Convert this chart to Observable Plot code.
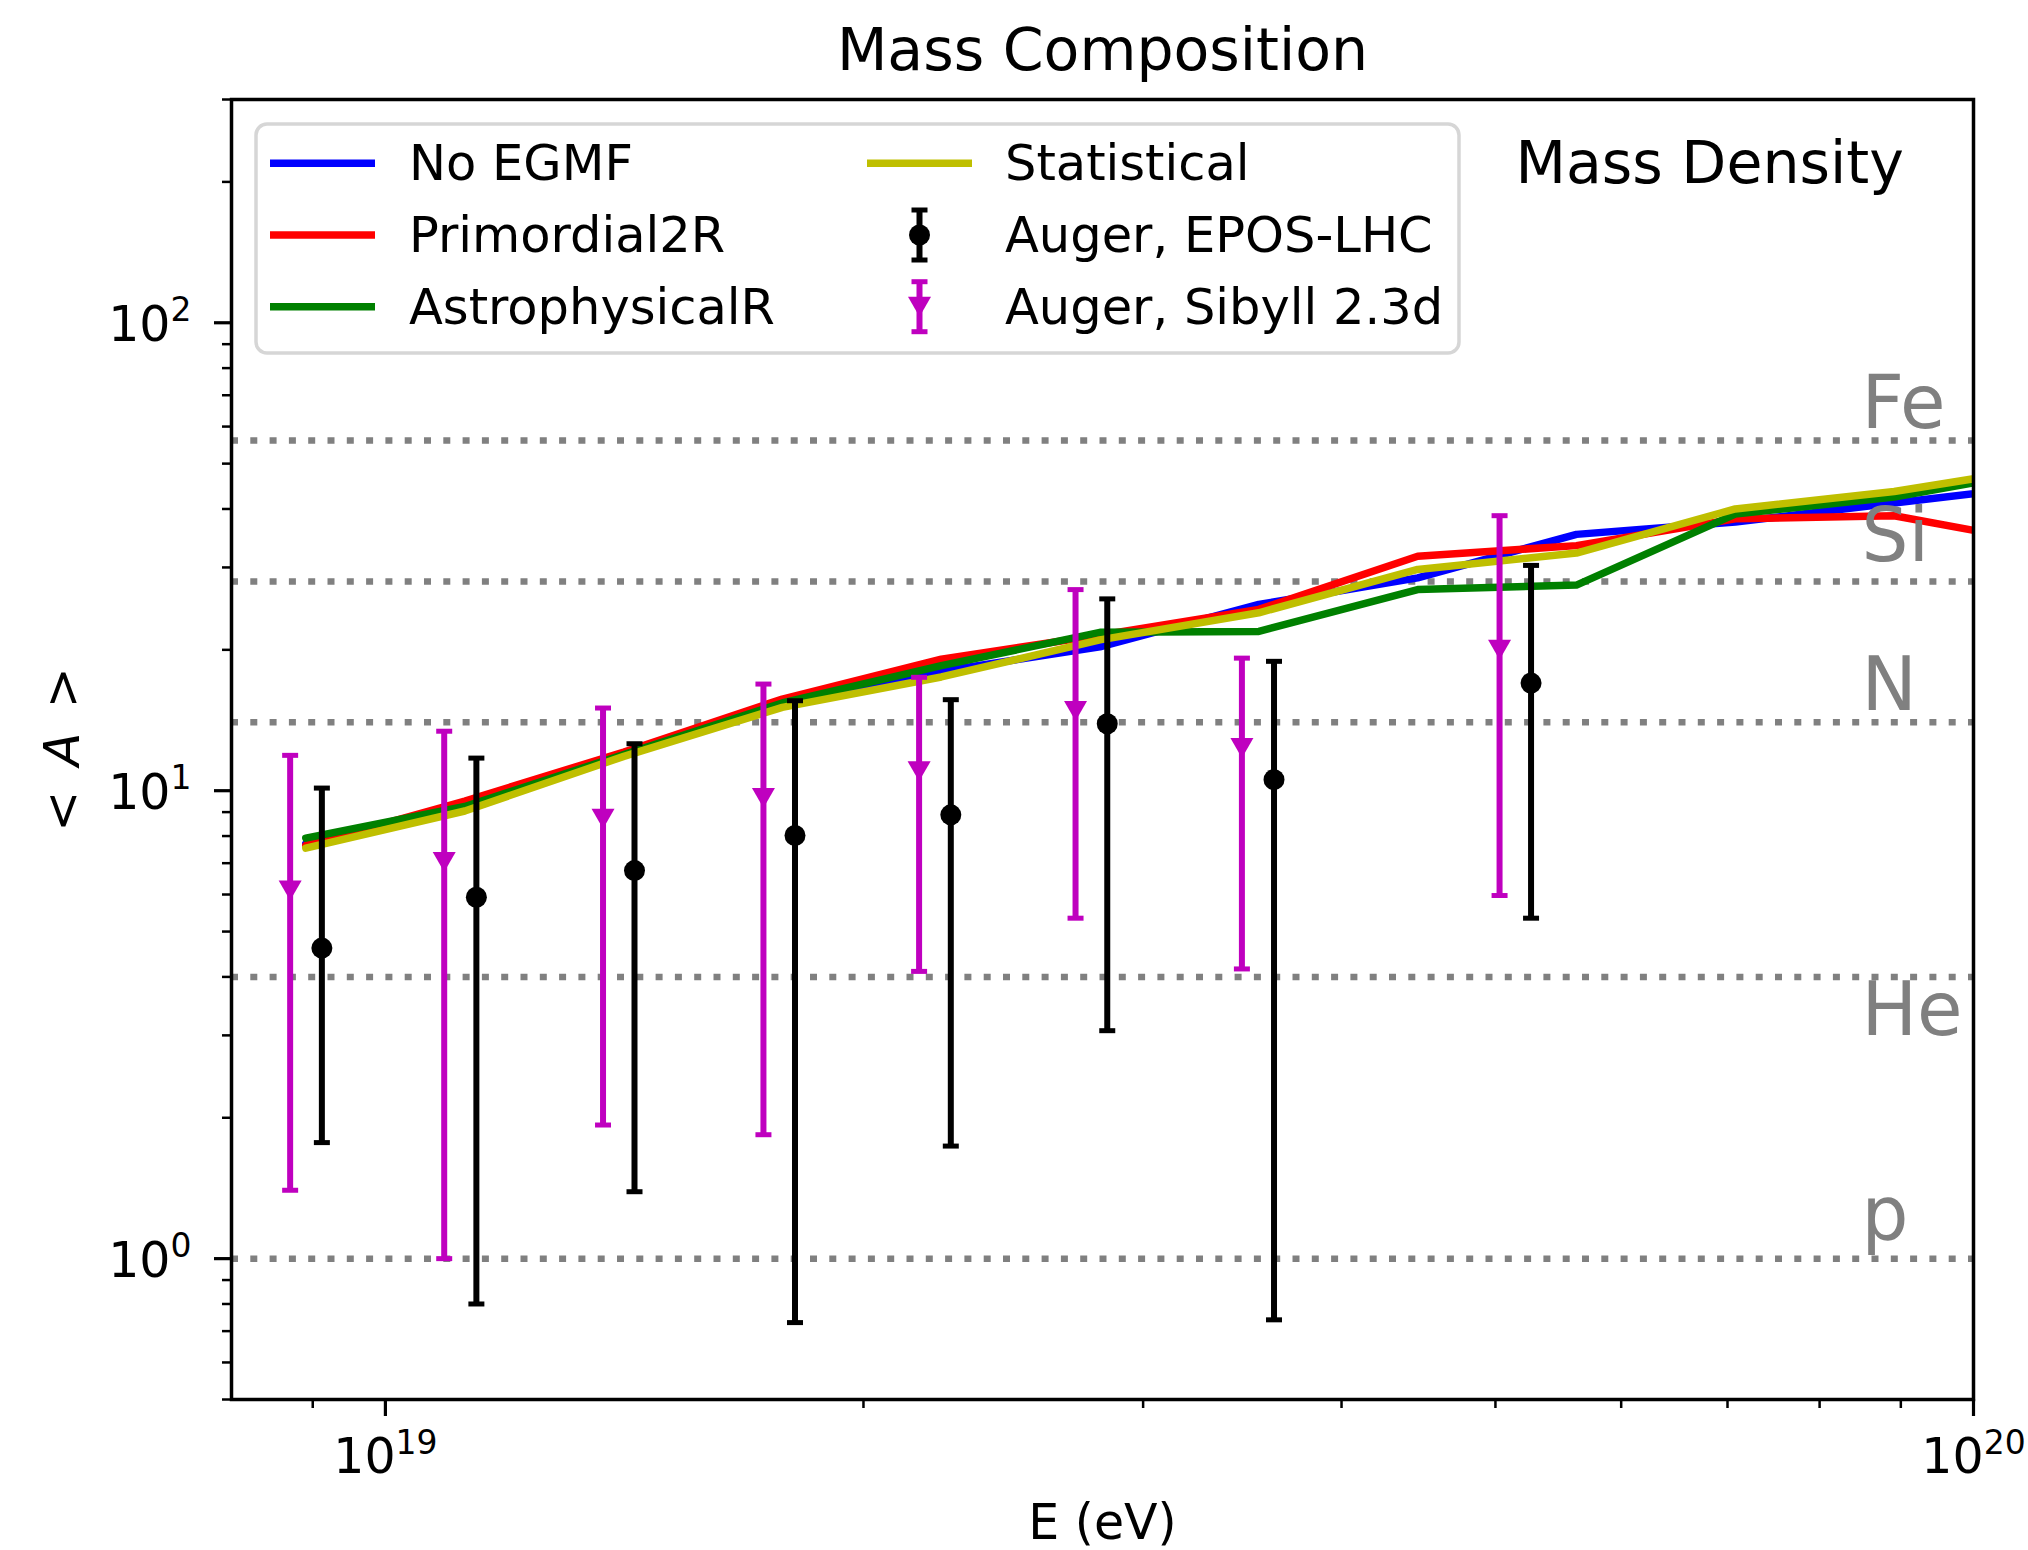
<!DOCTYPE html>
<html>
<head>
<meta charset="utf-8">
<script src="https://cdn.jsdelivr.net/npm/d3@7"></script>
<script src="https://cdn.jsdelivr.net/npm/@observablehq/plot@0.6"></script>
<style>
  html, body { margin: 0; padding: 0; background: #ffffff; overflow: hidden; }
  svg { font-family: "DejaVu Sans", sans-serif; display: block; }
</style>
</head>
<body>
<div id="chart"></div>
<script>
// ---------------- data ----------------
const modelEnergy    = [8.91e18, 1.122e19, 1.413e19, 1.778e19, 2.239e19, 2.818e19, 3.548e19, 4.467e19, 5.623e19, 7.079e19, 8.913e19, 1.122e20];
const noEGMF         = [7.70, 9.30, 11.90, 15.30, 18.00, 20.30, 25.00, 28.50, 35.30, 37.50, 41.20, 45.10];
const primordial2R   = [7.64, 9.50, 12.10, 15.70, 19.10, 21.50, 24.40, 31.70, 33.40, 38.10, 38.70, 33.50];
const astrophysicalR = [7.92, 9.25, 11.95, 15.40, 18.50, 21.80, 21.90, 26.90, 27.50, 39.00, 42.40, 48.80];
const statistical    = [7.54, 9.05, 11.84, 15.07, 17.50, 21.00, 24.00, 29.70, 32.20, 40.00, 43.60, 49.40];

const eposE  = [9.12e18, 1.141e19, 1.435e19, 1.811e19, 2.270e19, 2.848e19, 3.627e19, 5.265e19];
const eposA  = [4.61, 5.92, 6.75, 8.02, 8.88, 13.9, 10.56, 16.98];
const eposLo = [1.77, 0.80, 1.39, 0.73, 1.74, 3.07, 0.74, 5.34];
const eposHi = [10.13, 11.74, 12.6, 15.57, 15.65, 25.7, 18.9, 30.3];

const sibyllE  = [8.71e18, 1.089e19, 1.371e19, 1.730e19, 2.168e19, 2.720e19, 3.462e19, 5.030e19];
const sibyllA  = [6.12, 7.04, 8.71, 9.65, 11.0, 14.8, 12.34, 20.0];
const sibyllLo = [1.40, 1.00, 1.93, 1.84, 4.11, 5.34, 4.16, 5.97];
const sibyllHi = [11.9, 13.4, 15.02, 16.9, 17.47, 26.9, 19.2, 38.7];

const elementNames  = ["Fe", "Si", "N", "He", "p"];
const elementA      = [56, 28, 14, 4, 1];
const elementLabelA = [59.5, 30.9, 14.9, 3.0, 1.1];
const elementLabelE = 8.5e19;

const xMajorTicks = [1e19, 1e20];
const xMinorTicks = [9e18, 2e19, 3e19, 4e19, 5e19, 6e19, 7e19, 8e19, 9e19];
const yMajorTicks = [1, 10, 100];
const yMinorTicks = [0.5, 0.6, 0.7, 0.8, 0.9, 2, 3, 4, 5, 6, 7, 8, 9, 20, 30, 40, 50, 60, 70, 80, 90, 200, 300];

const seriesNames  = ["No EGMF", "Primordial2R", "AstrophysicalR", "Statistical"];
const seriesColors = ["#0000ff", "#ff0000", "#008000", "#bfbf00"];
const seriesValues = [noEGMF, primordial2R, astrophysicalR, statistical];
const augerNames  = ["Auger, EPOS-LHC", "Auger, Sibyll 2.3d"];
const augerColors = ["#000000", "#bf00bf"];

const titleText = "Mass Composition";
const panelText = "Mass Density";
const xLabelText = "E (eV)";
const yLabelText = "<A>";

// ---------------- derived tables ----------------
const modelRows = seriesNames.map((name, s) =>
  modelEnergy.map((E, i) => ({series: name, E, A: seriesValues[s][i]})));
const eposRows = eposE.map((E, i) => ({E, A: eposA[i], lo: eposLo[i], hi: eposHi[i]}));
const sibyllRows = sibyllE.map((E, i) => ({E, A: sibyllA[i], lo: sibyllLo[i], hi: sibyllHi[i]}));
const elements = elementNames.map((name, i) => ({name, A: elementA[i], labelA: elementLabelA[i], labelE: elementLabelE}));

// custom symbols
const capSymbol = {draw(ctx) { ctx.moveTo(-8, 0); ctx.lineTo(8, 0); }};
const triDown = {draw(ctx) { ctx.moveTo(-11.5, -10); ctx.lineTo(11.5, -10); ctx.lineTo(0, 10); ctx.closePath(); }};

const W = 2028, H = 1550;
const mL = 231, mR = 55, mT = 99, mB = 151;
const LW = 7.5, EW = 6, CW = 5;

const errorMarks = (rows, color, symbol) => [
  Plot.ruleX(rows, {x: "E", y1: "lo", y2: "hi", stroke: color, strokeWidth: EW}),
  Plot.dot(rows, {x: "E", y: "lo", symbol: capSymbol, r: 5, fill: "none", stroke: color, strokeWidth: CW}),
  Plot.dot(rows, {x: "E", y: "hi", symbol: capSymbol, r: 5, fill: "none", stroke: color, strokeWidth: CW}),
  symbol
    ? Plot.dot(rows, {x: "E", y: "A", symbol, r: 9, fill: color, stroke: "none"})
    : Plot.dot(rows, {x: "E", y: "A", r: 10.5, fill: color, stroke: "none"})
];

const plot = Plot.plot({
  width: W,
  height: H,
  marginLeft: mL,
  marginRight: mR,
  marginTop: mT,
  marginBottom: mB,
  style: {fontFamily: "DejaVu Sans", fontSize: "49px", background: "#ffffff", color: "#000000"},
  x: {type: "log", domain: [8e18, 1e20], label: null},
  y: {type: "log", domain: [0.5, 300], label: null},
  marks: [
    Plot.ruleY(elements, {y: "A", stroke: "#808080", strokeWidth: 6.5, strokeDasharray: "7 12.3"}),
    ...modelRows.map((rows, s) =>
      Plot.line(rows, {x: "E", y: "A", stroke: seriesColors[s], strokeWidth: LW, clip: true})),
    ...errorMarks(sibyllRows, augerColors[1], triDown),
    ...errorMarks(eposRows, augerColors[0], null),
    Plot.text(elements, {x: "labelE", y: "labelA", text: "name", fill: "#808080", fontSize: 74,
      textAnchor: "start", lineAnchor: "bottom"}),
    Plot.axisX(xMinorTicks, {tickSize: 9, tickFormat: () => "", strokeWidth: 2.5, label: null}),
    Plot.axisX(xMajorTicks, {tickSize: 17, tickPadding: 0, fontSize: 49, strokeWidth: 3.2, label: null,
      tickFormat: d => "10^" + Math.round(Math.log10(d))}),
    Plot.axisY(yMinorTicks, {tickSize: 9, tickFormat: () => "", strokeWidth: 2.5, label: null}),
    Plot.axisY(yMajorTicks, {tickSize: 17, tickPadding: 23, fontSize: 49, strokeWidth: 3.2, label: null,
      tickFormat: d => "10^" + Math.round(Math.log10(d))}),
    Plot.frame({stroke: "#000000", strokeWidth: 3.5}),
    Plot.text([titleText], {text: d => d, frameAnchor: "top", textAnchor: "middle", dy: -30,
      lineAnchor: "bottom", fontSize: 58.5}),
    Plot.text([panelText], {text: d => d, frameAnchor: "top-left", textAnchor: "start", dx: 1284, dy: 83,
      lineAnchor: "bottom", fontSize: 58.5}),
    Plot.text([xLabelText], {text: d => d, frameAnchor: "bottom", textAnchor: "middle", dy: 139,
      lineAnchor: "bottom", fontSize: 49}),
    Plot.text([yLabelText], {text: d => d, frameAnchor: "left", textAnchor: "middle", dx: -153, rotate: -90,
      lineAnchor: "bottom", fontSize: 49})
  ]
});

document.getElementById("chart").appendChild(plot);
const svg = d3.select(plot);

// superscripted tick labels
function superscript(selection, baselineY, supSize, rise) {
  selection.each(function () {
    const t = this.textContent;
    if (!t.includes("^")) return;
    const [base, exp] = t.split("^");
    const el = d3.select(this);
    el.attr("y", baselineY).attr("dy", null).text(base);
    el.append("tspan").attr("dy", -rise).attr("font-size", supSize).text(exp);
  });
}
svg.selectAll('g[aria-label="x-axis tick label"] text').call(superscript, 56, 33, 19);
svg.selectAll('g[aria-label="y-axis tick label"] text').call(superscript, 18, 33, 20);
svg.selectAll('g[aria-label="x-axis tick label"] text').attr("text-anchor", "middle");

// y label "< A >" with italic A (as matplotlib mathtext)
svg.selectAll("text").filter(function () { return this.textContent === yLabelText; }).each(function () {
  const el = d3.select(this);
  el.attr("text-anchor", "middle").text("<\u2002");
  el.append("tspan").attr("font-style", "italic").text("A");
  el.append("tspan").text("\u2002>");
});

// legend
const legend = svg.append("g").attr("font-family", "DejaVu Sans").attr("font-size", 49.5)
  .attr("text-anchor", "start");
legend.append("rect")
  .attr("x", 256).attr("y", 124).attr("width", 1203).attr("height", 229).attr("rx", 11)
  .attr("fill", "#ffffff").attr("fill-opacity", 0.8)
  .attr("stroke", "#d6d6d6").attr("stroke-width", 3.5);
const rowY = [163.3, 235, 306.7];
const col = [{x1: 270, x2: 375, tx: 409}, {x1: 867, x2: 972, tx: 1005}];
const legendEntries = [
  {label: seriesNames[0], kind: "line", color: seriesColors[0], c: 0, r: 0},
  {label: seriesNames[1], kind: "line", color: seriesColors[1], c: 0, r: 1},
  {label: seriesNames[2], kind: "line", color: seriesColors[2], c: 0, r: 2},
  {label: seriesNames[3], kind: "line", color: seriesColors[3], c: 1, r: 0},
  {label: augerNames[0], kind: "dot", color: augerColors[0], c: 1, r: 1},
  {label: augerNames[1], kind: "tri", color: augerColors[1], c: 1, r: 2}
];
for (const e of legendEntries) {
  const cc = col[e.c], y = rowY[e.r];
  if (e.kind === "line") {
    legend.append("line").attr("x1", cc.x1).attr("x2", cc.x2).attr("y1", y).attr("y2", y)
      .attr("stroke", e.color).attr("stroke-width", LW);
  } else {
    const cx = (cc.x1 + cc.x2) / 2;
    legend.append("line").attr("x1", cx).attr("x2", cx).attr("y1", y - 25).attr("y2", y + 25)
      .attr("stroke", e.color).attr("stroke-width", EW);
    for (const yy of [y - 25, y + 25]) {
      legend.append("line").attr("x1", cx - 8).attr("x2", cx + 8).attr("y1", yy).attr("y2", yy)
        .attr("stroke", e.color).attr("stroke-width", CW);
    }
    if (e.kind === "dot") {
      legend.append("circle").attr("cx", cx).attr("cy", y).attr("r", 10.5).attr("fill", e.color);
    } else {
      legend.append("path").attr("d", `M${cx - 11.5},${y - 10}L${cx + 11.5},${y - 10}L${cx},${y + 10}Z`)
        .attr("fill", e.color);
    }
  }
  legend.append("text").attr("x", cc.tx).attr("y", y + 17).attr("fill", "#000000").text(e.label);
}
</script>
</body>
</html>
